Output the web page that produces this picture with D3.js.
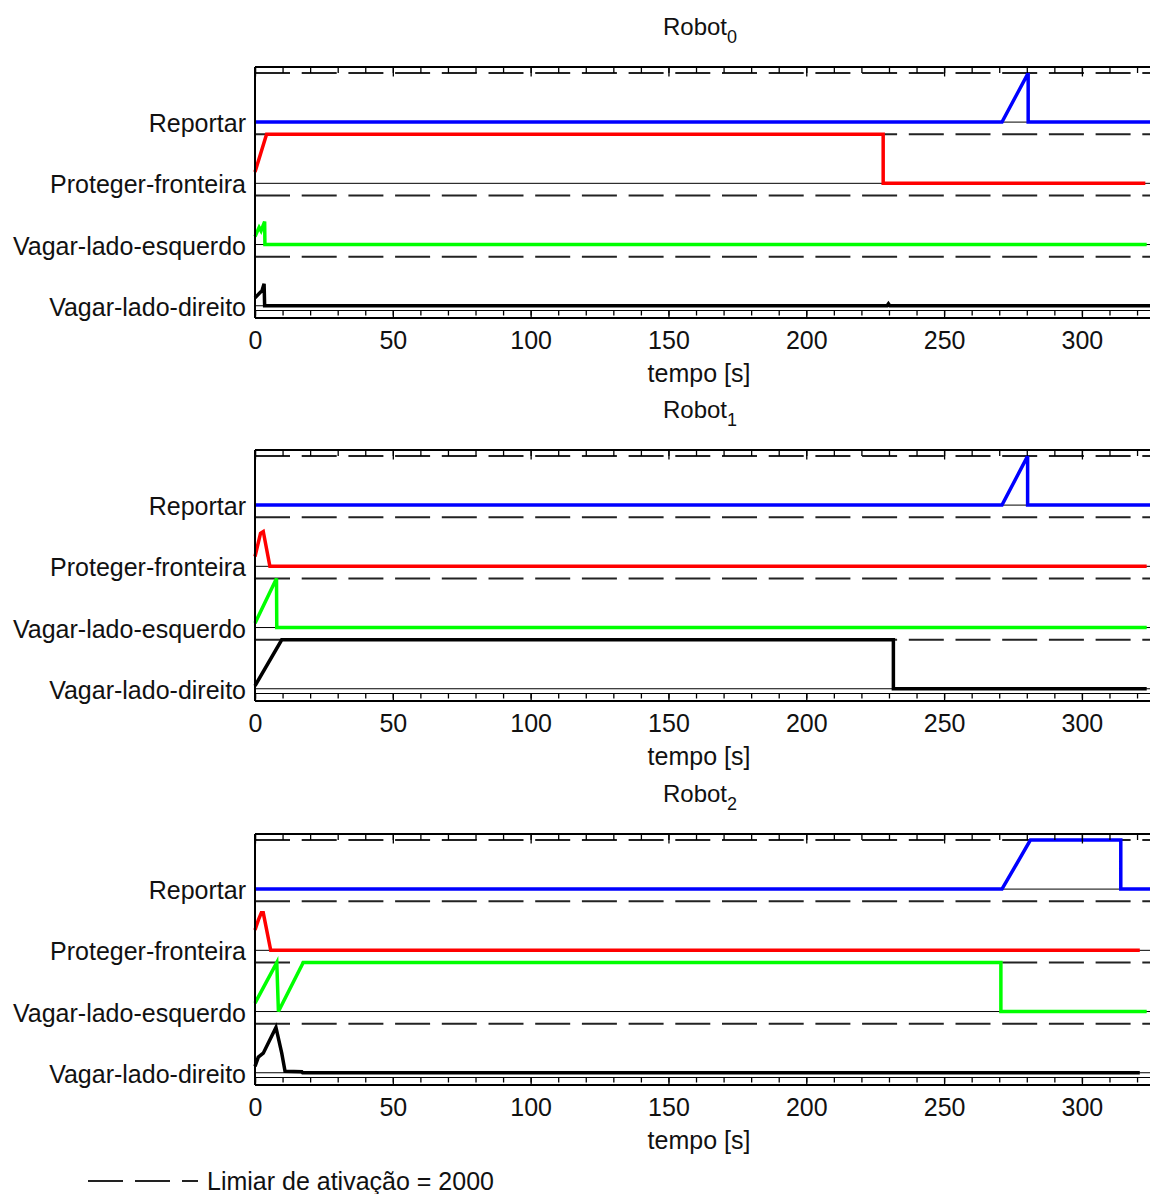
<!DOCTYPE html>
<html>
<head>
<meta charset="utf-8">
<script src="https://cdn.jsdelivr.net/npm/d3@7"></script>
<style>
  body { margin: 0; background: #fff; }
  text { font-family: "Liberation Sans", Arial, sans-serif; fill: #111; }
</style>
</head>
<body>
<div id="chart"></div>
<script>
// Behaviour names (top to bottom) and their colours
const behaviors = ["Reportar", "Proteger-fronteira", "Vagar-lado-esquerdo", "Vagar-lado-direito"];
const colors = ["#0000ff", "#ff0000", "#00ff00", "#000000"];
const robotIds = ["0", "1", "2"];
const threshold = 2000;
const bandStep = 2500;            // vertical offset between behaviours
const majorTicks = [0, 50, 100, 150, 200, 250, 300];
const minorTicks = d3.range(0, 330, 10);

// [tempo (s), ativação]
const r0Reportar = [[0, 0], [271, 0], [280.5, 2000], [280.5, 0], [324.7, 0]];
const r0Proteger = [[0, 460], [4.2, 2000], [227.9, 2000], [227.9, 0], [323, 0]];
const r0VagarEsq = [[0, 330], [1.5, 700], [2.2, 560], [3.5, 940], [3.6, 0], [323.5, 0]];
const r0VagarDir = [[0, 320], [2, 560], [2.5, 600], [3.3, 900], [3.5, 0], [229.3, 0], [229.8, 80], [230.3, 0], [324.7, 0]];

const r1Reportar = [[0, 0], [271, 0], [280.3, 2000], [280.3, 0], [324.7, 0]];
const r1Proteger = [[0, 400], [2, 1350], [3, 1420], [5.4, 0], [323.5, 0]];
const r1VagarEsq = [[0, 180], [7.8, 2000], [7.9, 0], [323.5, 0]];
const r1VagarDir = [[0, 120], [9.7, 2000], [231.6, 2000], [231.6, 0], [323.5, 0]];

const r2Reportar = [[0, 0], [271, 0], [281.3, 2000], [314.1, 2000], [314.1, 0], [324.7, 0]];
const r2Proteger = [[0, 830], [1.2, 1230], [2.3, 1530], [3, 1530], [5.7, 0], [321, 0]];
const r2VagarEsq = [[0, 343], [7.9, 2000], [8.5, 0], [17.5, 2000], [270.6, 2000], [270.6, 0], [323.5, 0]];
const r2VagarDir = [[0, 260], [1.2, 640], [3, 800], [7.6, 1850], [9.7, 800], [10.9, 60], [17, 40], [17.3, 0], [321, 0]];

const robotSeries = [
    [r0Reportar, r0Proteger, r0VagarEsq, r0VagarDir],
    [r1Reportar, r1Proteger, r1VagarEsq, r1VagarDir],
    [r2Reportar, r2Proteger, r2VagarEsq, r2VagarDir]
];

// Layout
const width = 1150, height = 1194;
const panelOffsets = [0, 383, 767];
const plotTop = 67, plotBottom = 318, plotLeft = 255, plotRight = 1150;

const svg = d3.select("#chart")
    .append("svg")
    .attr("width", width)
    .attr("height", height);

const xScale = d3.scaleLinear()
    .domain([0, 324.7])
    .range([plotLeft, plotRight]);

const yScale = d3.scaleLinear()
    .domain([-500, 9750])
    .range([plotBottom, plotTop]);

// behaviour i sits at offset (3 - i) * bandStep
const bandBase = i => (behaviors.length - 1 - i) * bandStep;

robotSeries.forEach((series, p) => {
    const g = svg.append("g")
        .attr("transform", "translate(0," + panelOffsets[p] + ")");

    // Title with subscript
    const title = g.append("text")
        .attr("x", 700)
        .attr("y", 35)
        .attr("text-anchor", "middle")
        .attr("font-size", "24px")
        .text("Robot");
    title.append("tspan")
        .attr("font-size", "18px")
        .attr("dy", 8)
        .text(robotIds[p]);

    // Thin zero lines for each behaviour
    g.selectAll(".base")
        .data(behaviors)
        .enter().append("line")
        .attr("x1", plotLeft).attr("x2", plotRight)
        .attr("y1", (d, i) => yScale(bandBase(i)))
        .attr("y2", (d, i) => yScale(bandBase(i)))
        .attr("stroke", "#000")
        .attr("stroke-width", 1);

    // Dashed threshold lines
    g.selectAll(".thr")
        .data(behaviors)
        .enter().append("line")
        .attr("x1", plotLeft).attr("x2", plotRight)
        .attr("y1", (d, i) => yScale(bandBase(i) + threshold))
        .attr("y2", (d, i) => yScale(bandBase(i) + threshold))
        .attr("stroke", "#222")
        .attr("stroke-width", 2)
        .attr("stroke-dasharray", "35,11.7");

    // Behaviour labels
    g.selectAll(".lbl")
        .data(behaviors)
        .enter().append("text")
        .attr("x", 246)
        .attr("y", (d, i) => yScale(bandBase(i)) + 10)
        .attr("text-anchor", "end")
        .attr("font-size", "25px")
        .text(d => d);

    // Activation curves
    series.forEach((pts, i) => {
        const line = d3.line()
            .x(d => xScale(d[0]))
            .y(d => yScale(d[1] + bandBase(i)));
        g.append("path")
            .datum(pts)
            .attr("d", line)
            .attr("fill", "none")
            .attr("stroke", colors[i])
            .attr("stroke-width", 3.5);
    });

    // Frame
    g.append("line")
        .attr("x1", plotLeft).attr("x2", plotRight + 2)
        .attr("y1", plotTop).attr("y2", plotTop)
        .attr("stroke", "#000").attr("stroke-width", 2);
    g.append("line")
        .attr("x1", plotLeft).attr("x2", plotRight + 2)
        .attr("y1", plotBottom).attr("y2", plotBottom)
        .attr("stroke", "#000").attr("stroke-width", 2);
    g.append("line")
        .attr("x1", plotLeft).attr("x2", plotLeft)
        .attr("y1", plotTop).attr("y2", plotBottom)
        .attr("stroke", "#000").attr("stroke-width", 2);
    // inner ruler line at the bottom
    g.append("line")
        .attr("x1", plotLeft).attr("x2", plotRight + 2)
        .attr("y1", plotBottom - 7.5).attr("y2", plotBottom - 7.5)
        .attr("stroke", "#000").attr("stroke-width", 1.2);

    // Top ticks (pointing into the plot)
    const topMinor = g.append("g")
        .attr("transform", "translate(0," + plotTop + ")")
        .call(d3.axisBottom(xScale).tickValues(minorTicks).tickSize(6).tickFormat(""));
    const topMajor = g.append("g")
        .attr("transform", "translate(0," + plotTop + ")")
        .call(d3.axisBottom(xScale).tickValues(majorTicks).tickSize(9.5).tickFormat(""));

    // Bottom ticks (ruler)
    const botMinor = g.append("g")
        .attr("transform", "translate(0," + (plotBottom - 7.5) + ")")
        .call(d3.axisBottom(xScale).tickValues(minorTicks).tickSize(5).tickFormat(""));
    const botMajor = g.append("g")
        .attr("transform", "translate(0," + (plotBottom - 7.5) + ")")
        .call(d3.axisBottom(xScale).tickValues(majorTicks).tickSize(7.5).tickFormat(""));

    [topMinor, topMajor, botMinor, botMajor].forEach(a => {
        a.select(".domain").remove();
        a.selectAll(".tick line").attr("stroke", "#000").attr("stroke-width", 1.3);
    });

    // Tick labels
    const labels = g.append("g")
        .attr("transform", "translate(0," + plotBottom + ")")
        .call(d3.axisBottom(xScale).tickValues(majorTicks).tickSize(0).tickPadding(13.5));
    labels.select(".domain").remove();
    labels.selectAll("text")
        .attr("font-size", "25px")
        .attr("font-family", "Liberation Sans, Arial, sans-serif")
        .attr("fill", "#111");

    // Axis title
    g.append("text")
        .attr("x", 699)
        .attr("y", 382)
        .attr("text-anchor", "middle")
        .attr("font-size", "25px")
        .text("tempo [s]");
});

// Legend
svg.append("line")
    .attr("x1", 88).attr("x2", 198)
    .attr("y1", 1181).attr("y2", 1181)
    .attr("stroke", "#222")
    .attr("stroke-width", 2)
    .attr("stroke-dasharray", "35,12");

svg.append("text")
    .attr("x", 207)
    .attr("y", 1190)
    .attr("font-size", "25px")
    .text("Limiar de ativação = " + threshold);
</script>
</body>
</html>
